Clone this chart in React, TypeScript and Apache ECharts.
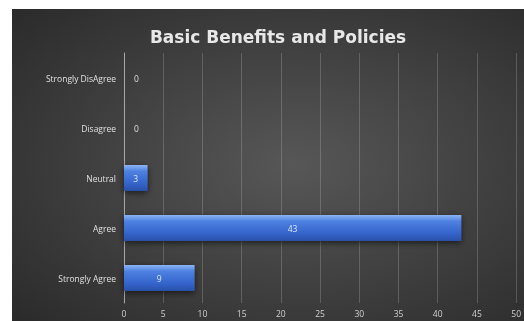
import React, { useEffect, useRef } from "react";
import * as echarts from "echarts";

const categories = ["Strongly DisAgree", "Disagree", "Neutral", "Agree", "Strongly Agree"];
const values = [0, 0, 3, 43, 9];
const xTicks = [0, 5, 10, 15, 20, 25, 30, 35, 40, 45, 50];

export default function App() {
  const ref = useRef<HTMLDivElement>(null);
  useEffect(() => {
    if (!ref.current) return;
    const chart = echarts.init(ref.current, undefined, { renderer: "svg" });
    chart.setOption({
      animation: false,
      backgroundColor: {
        type: "radial",
        x: 0.55,
        y: 0.5,
        r: 0.8,
        colorStops: [
          { offset: 0, color: "#575757" },
          { offset: 1, color: "#272727" },
        ],
      },
      title: {
        text: "Basic Benefits and Policies",
        left: 261,
        top: 14,
        textAlign: "center",
        textStyle: {
          color: "#e8e8e8",
          fontFamily: "DejaVu Sans",
          fontWeight: "bold",
          fontSize: 17,
        },
      },
      grid: { left: 112, right: 6, top: 44, bottom: 18, containLabel: false },
      xAxis: {
        type: "value",
        min: xTicks[0],
        max: xTicks[xTicks.length - 1],
        interval: 5,
        axisLine: { show: false },
        axisTick: { show: false },
        splitLine: { show: true, lineStyle: { color: "rgba(200,200,200,0.25)", width: 1 } },
        axisLabel: { color: "#d0d0d0", fontSize: 8.5, fontFamily: "Open Sans", margin: 6 },
      },
      yAxis: {
        type: "category",
        inverse: true,
        data: categories,
        axisLine: { show: true, lineStyle: { color: "#a8a8a8", width: 1 } },
        axisTick: { show: false },
        axisLabel: { color: "#e0e0e0", fontSize: 8.5, fontFamily: "Open Sans", margin: 8 },
      },
      series: [
        {
          type: "bar",
          barWidth: 26,
          data: values.map((v) => ({
            value: v,
            label: v === 0
              ? { show: true, position: "right", distance: 10, color: "#dddddd", fontSize: 8.5 }
              : { show: true, position: "inside", color: "#dce6ff", fontSize: 8.5 },
          })),
          itemStyle: {
            color: {
              type: "linear",
              x: 0, y: 0, x2: 0, y2: 1,
              colorStops: [
                { offset: 0, color: "#8cb4f5" },
                { offset: 0.25, color: "#4d80e0" },
                { offset: 0.7, color: "#3565cc" },
                { offset: 1, color: "#2a50a8" },
              ],
            },
            shadowBlur: 6,
            shadowColor: "rgba(0,0,0,0.6)",
            shadowOffsetY: 2,
          },
          label: { fontFamily: "Open Sans" },
        },
      ],
    });
    return () => chart.dispose();
  }, []);
  return (
    <div
      ref={ref}
      style={{ position: "fixed", left: 12, top: 9, width: 512, height: 312 }}
    />
  );
}
